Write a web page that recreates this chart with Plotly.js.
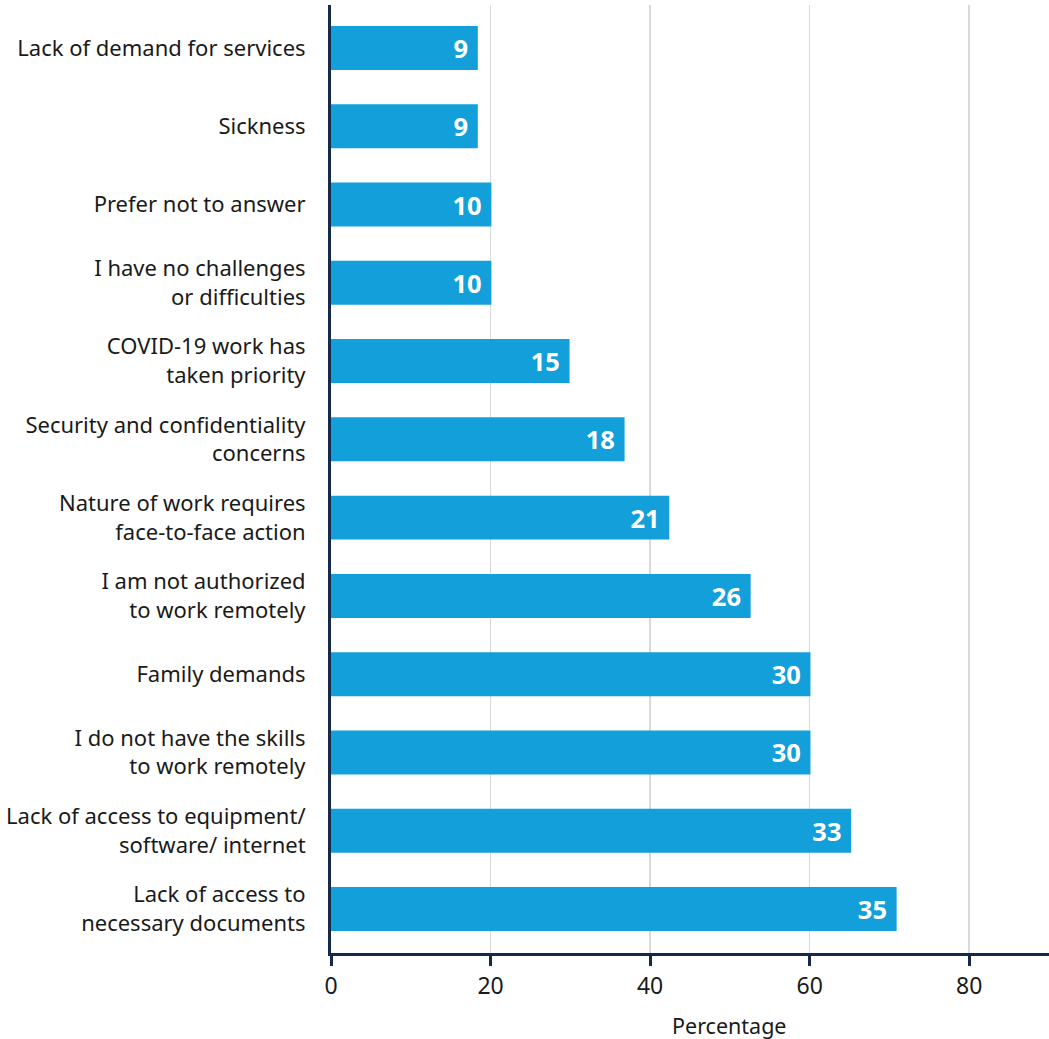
<!DOCTYPE html>
<html>
<head>
<meta charset="utf-8">
<script src="https://cdn.plot.ly/plotly-3.0.1.min.js"></script>
<style>html,body{margin:0;padding:0;background:#fff;}#chart{width:1049px;height:1039px;}</style>
</head>
<body>
<div id="chart"></div>
<script>
// Categories listed bottom-to-top
const categories = [
  "Lack of access to<br>necessary documents",
  "Lack of access to equipment/<br>software/ internet",
  "I do not have the skills<br>to work remotely",
  "Family demands",
  "I am not authorized<br>to work remotely",
  "Nature of work requires<br>face-to-face action",
  "Security and confidentiality<br>concerns",
  "COVID-19 work has<br>taken priority",
  "I have no challenges<br>or difficulties",
  "Prefer not to answer",
  "Sickness",
  "Lack of demand for services"
];
const barValues = [70.9, 65.2, 60.1, 60.1, 52.6, 42.4, 36.8, 29.9, 20.1, 20.1, 18.4, 18.4];
const barLabels = [35, 33, 30, 30, 26, 21, 18, 15, 10, 10, 9, 9];
const xTicks = [0, 20, 40, 60, 80];

const FONT = "'Noto Sans', Lato, sans-serif";
const NAVY = "#15294a";

const trace = {
  type: "bar",
  orientation: "h",
  x: barValues,
  y: categories,
  text: barLabels.map(v => String(v) + "\u00a0"),
  textposition: "inside",
  insidetextanchor: "end",
  constraintext: "none",
  textangle: 0,
  textfont: {family: FONT, size: 25.5, color: "#ffffff", weight: 700},
  marker: {color: "#139fda"},
  width: 0.562,
  hoverinfo: "none",
  cliponaxis: false
};

const layout = {
  width: 1049,
  height: 1039,
  margin: {l: 331, r: 0, t: 5, b: 86},
  paper_bgcolor: "#ffffff",
  plot_bgcolor: "#ffffff",
  showlegend: false,
  font: {family: FONT, color: "#1a1a1a"},
  xaxis: {
    range: [0, 90],
    tickvals: xTicks,
    ticktext: xTicks.map(String),
    showgrid: true,
    gridcolor: "#d9d9d9",
    gridwidth: 1.5,
    zeroline: false,
    showline: true,
    linecolor: NAVY,
    linewidth: 3,
    ticks: "outside",
    ticklen: 10,
    tickwidth: 3,
    tickcolor: NAVY,
    tickfont: {family: FONT, size: 23, color: "#1a1a1a"},
    fixedrange: true
  },
  yaxis: {
    type: "category",
    range: [-0.562, 11.549],
    showgrid: false,
    zeroline: false,
    showline: true,
    linecolor: NAVY,
    linewidth: 3,
    ticks: "",
    ticklabelstandoff: 18,
    tickfont: {family: FONT, size: 22, color: "#1a1a1a"},
    fixedrange: true
  },
  annotations: [{
    text: "Percentage",
    x: 50, xref: "x",
    y: 0, yref: "paper",
    showarrow: false,
    font: {family: FONT, size: 21.5, color: "#1a1a1a"},
    xanchor: "center", yanchor: "middle"
  }]
};
const plotH = 1039 - 5 - 86;
layout.annotations[0].y = (1039 - 86 - 1025) / plotH;

Plotly.newPlot("chart", [trace], layout, {displayModeBar: false, staticPlot: true});
</script>
</body>
</html>
